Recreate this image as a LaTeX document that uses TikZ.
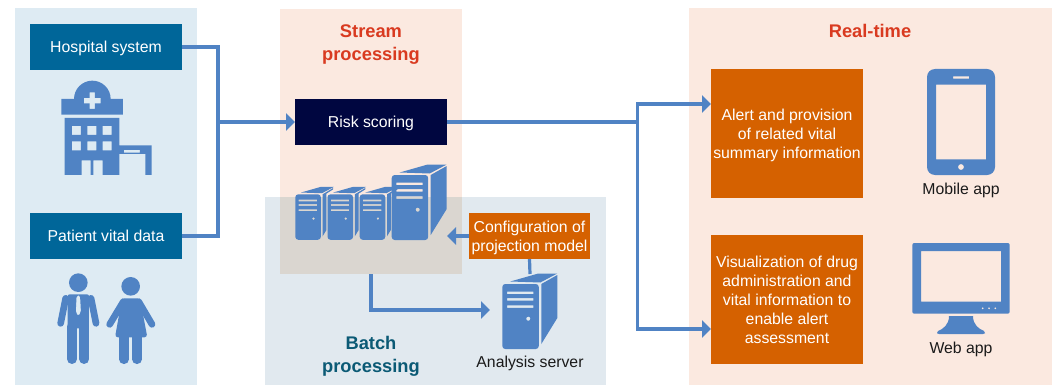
\documentclass[tikz,border=0pt]{standalone}
\usepackage{fontspec}
\setmainfont{Liberation Sans}
\usepackage{xcolor}
\usepackage{tikz}
\usetikzlibrary{shapes,arrows,positioning,calc,arrows.meta}

\definecolor{sourcepanel}{HTML}{DEEBF3}
\definecolor{streampanel}{HTML}{FBE9E0}
\definecolor{batchpanel}{HTML}{E1E9EF}
\definecolor{overlappanel}{HTML}{DAD6D0}
\definecolor{sourcebox}{HTML}{006699}
\definecolor{riskbox}{HTML}{000640}
\definecolor{taskbox}{HTML}{D56100}
\definecolor{iconblue}{HTML}{5083C4}
\definecolor{streamtitle}{HTML}{D93A20}
\definecolor{batchtitle}{HTML}{0B5A75}
\definecolor{labeltext}{HTML}{1A1A1A}

\tikzset{
    panel/.style={inner sep=0pt, outer sep=0pt},
    box/.style={inner sep=0pt, outer sep=0pt, minimum width=152, minimum height=46, text=white, text depth=0pt, align=center, font=\fontsize{15.8}{19}\selectfont},
    taskcard/.style={box, fill=taskbox, minimum height=129},
    title/.style={align=center, font=\fontsize{18.3}{23}\selectfont\bfseries},
    caption/.style={text=labeltext, font=\fontsize{15.8}{19}\selectfont},
    link/.style={draw=iconblue, line width=3.2pt},
    flow/.style={link, -{Triangle[length=9pt,width=17pt]}},
    limb/.style={draw=iconblue, line cap=round},
    pics/server/.style={code={
        \fill[iconblue, even odd rule]
            [rounded corners=3] (0,0) rectangle (36.5,65)
            [sharp corners] (4.7,7.5) rectangle (31,10)
            (4.7,14.2) rectangle (31,16.7)
            (4.7,21.4) rectangle (31,23.9)
            (26,34.7) circle[radius=2.1];
        \fill[iconblue] (8,-2.5) -- (36,-10.5) -- (55,-10.5) -- (38,-1.5) -- cycle;
        \fill[iconblue] (39,0) -- (55,-9) -- (55,34) -- (39,60) -- cycle;
    }},
    pics/rackserver/.style={code={
        \fill[iconblue, even odd rule]
            [rounded corners=3] (0,0) rectangle (36.5,65)
            [sharp corners] (4.7,7.5) rectangle (31,10)
            (4.7,14.2) rectangle (31,16.7)
            (4.7,21.4) rectangle (31,23.9)
            (26,34.7) circle[radius=2.1];
        \fill[iconblue] (8,-2.5) -- (36,-10.5) -- (55,-10.5) -- (38,-1.5) -- cycle;
        \fill[iconblue] (39,0) -- (54,-9) -- (54,-7) -- (44.5,-1) -- (44.5,51) -- (39,60) -- cycle;
    }}
}

\begin{document}
\begin{tikzpicture}[x=1pt, y=-1pt]
    \useasboundingbox (0,0) rectangle (1052,385);

    % panels
    \node[panel, fill=sourcepanel, minimum width=182, minimum height=377] (sources) at (106,196.5) {};
    \node[panel, fill=streampanel, minimum width=182, minimum height=265] (stream) at (371,141.5) {};
    \node[panel, fill=batchpanel, minimum width=341, minimum height=188] (batch) at (435.5,291) {};
    \node[panel, fill=overlappanel, minimum width=182, minimum height=77] (overlap) at (371,235.5) {};
    \node[panel, fill=streampanel, minimum width=363, minimum height=377] (realtime) at (870.5,196.5) {};

    % titles
    \node[title, text=streamtitle] (streamlabel) at (371,44.5) {Stream\\processing};
    \node[title, text=batchtitle] (batchlabel) at (371,356) {Batch\\processing};
    \node[title, text=streamtitle] (realtimelabel) at (870,31) {Real-time};

    % boxes
    \node[box, fill=sourcebox] (hospital) at (106,47) {Hospital system};
    \node[box, fill=sourcebox] (patient) at (106,236) {Patient vital data};
    \node[box, fill=riskbox] (risk) at (371,122) {Risk scoring};
    \node[box, fill=taskbox, minimum width=121] (config) at (529.5,236) {Configuration of\\projection model};
    \node[taskcard] (alert) at (787,133.5) {Alert and provision\\of related vital\\summary information};
    \node[taskcard] (viz) at (787,299.5) {Visualization of drug\\administration and\\vital information to\\enable alert\\assessment};

    % captions
    \node[caption] (analysis) at (530,363.5) {Analysis server};
    \node[caption] (mobile) at (961,190) {Mobile app};
    \node[caption] (web) at (961,349) {Web app};

    % connectors
    \coordinate (sourcebus) at (218,122);
    \coordinate (outbus) at (637.5,122);
    \coordinate (rackin) at (447,236);
    \coordinate (analysisin) at (490,310);
    \coordinate (analysistop) at (530,274);
    \draw[link] (hospital.east) -| (sourcebus);
    \draw[link] (patient.east) -| (sourcebus);
    \draw[flow] (sourcebus) -- (risk.west);
    \draw[link] (risk.east) -- (outbus);
    \draw[flow] (outbus) |- ([yshift=29.5pt]alert.west);
    \draw[flow] (outbus) |- ([yshift=-29.5pt]viz.west);
    \draw[flow] (config.west) -- (rackin);
    \draw[link] (config.south) -- (analysistop);
    \draw[flow] (overlap.south) |- (analysisin);

    % servers
    \pic[scale=0.7] at (295.3,194.3) {rackserver};
    \pic[scale=0.7] at (327.5,194.3) {rackserver};
    \pic[scale=0.7] at (359.7,194.3) {rackserver};
    \pic at (391.7,175) {server};
    \pic at (502.3,284) {server};

    % hospital
    \begin{scope}[scale=1/3]
        \fill[iconblue, even odd rule] (184,344) -- (184,297) -- (222,297) arc[start angle=180, end angle=360, radius=55] -- (369,297) -- (369,344) -- cycle
            (269,277) -- (285,277) -- (285,294) -- (302,294) -- (302,310) -- (285,310) -- (285,327) -- (269,327) -- (269,310) -- (252,310) -- (252,294) -- (269,294) -- cycle;
        \fill[iconblue, even odd rule] (194,354) -- (358,354) -- (358,436) -- (455,436) -- (455,525) -- (436,525) -- (436,462) -- (358,462) -- (358,525) -- (308,525) -- (308,481) -- (280,481) -- (280,525) -- (272,525) -- (272,481) -- (245,481) -- (245,525) -- (194,525) -- cycle
            (216,378) rectangle (243,405) (262,378) rectangle (289,405) (308,378) rectangle (335,405)
            (216,424) rectangle (243,451) (262,424) rectangle (289,451) (308,424) rectangle (335,451)
            (372,450) rectangle (420,458);
    \end{scope}

    % man and woman
    \begin{scope}[scale=1/3]
        \fill[iconblue] (235,848) circle[radius=28];
        \fill[iconblue, even odd rule, rounded corners=2] (203,883) -- (267,883) -- (267,985) -- (203,985) -- cycle
            (230,885) -- (240,885) -- (243,938) -- (235,948) -- (227,938) -- cycle;
        \draw[limb, line width=6.7pt] (197,895) -- (182,970);
        \draw[limb, line width=6.7pt] (273,895) -- (288,970);
        \draw[limb, line width=10pt] (216,980) -- (216,1077);
        \draw[limb, line width=10pt] (253,980) -- (253,1077);
        \fill[iconblue] (392,859) circle[radius=28];
        \fill[iconblue, rounded corners=3] (366,895) -- (420,895) -- (442,1012) -- (345,1012) -- cycle;
        \draw[limb, line width=6.7pt] (370,905) -- (329,973);
        \draw[limb, line width=6.7pt] (416,905) -- (456,973);
        \draw[limb, line width=9.5pt] (372,1005) -- (372,1078);
        \draw[limb, line width=9.5pt] (411,1005) -- (411,1078);
    \end{scope}

    % phone
    \fill[iconblue, even odd rule] [rounded corners=8] (927,69) rectangle (995,175)
        [sharp corners] (936,84.7) rectangle (986,159.3)
        (953,76.3) rectangle (969,78.7)
        (961,167) circle[radius=3];

    % monitor
    \fill[iconblue, even odd rule] [rounded corners=2] (912.3,243) rectangle (1009.7,313.7)
        [sharp corners] (921,251) rectangle (1001,301.7)
        (982.7,308.3) circle[radius=1.2] (989,308.3) circle[radius=1.2] (995.3,308.3) circle[radius=1.2];
    \fill[iconblue] (949,316) -- (973,316) .. controls (973,325) and (979,329) .. (984,331) .. controls (986,333) and (985,334) .. (983,334) -- (939,334) .. controls (937,334) and (936,333) .. (938,331) .. controls (943,329) and (949,325) .. (949,316) -- cycle;
\end{tikzpicture}
\end{document}
